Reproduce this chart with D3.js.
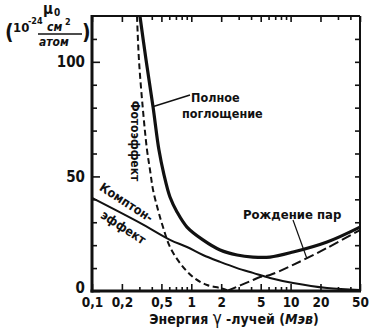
<!DOCTYPE html>
<html>
<head>
<meta charset="utf-8">
<script src="https://cdn.jsdelivr.net/npm/d3@7"></script>
<style>
  html, body { margin: 0; padding: 0; background: #fff; }
  svg { display: block; }
  text { font-family: "Liberation Sans Narrow", "DejaVu Sans Condensed", "Liberation Sans", sans-serif; font-weight: bold; fill: #111; }
</style>
</head>
<body>
<svg id="chart" width="377" height="333"></svg>
<script>
// Energy axis ticks (MeV) and their printed labels
const energyTicks = [0.1, 0.2, 0.5, 1, 2, 5, 10, 20, 50];
const energyTickLabels = ["0,1", "0,2", "0,5", "1", "2", "5", "10", "20", "50"];
const energyMinorTicks = [0.3, 0.4, 0.6, 0.7, 0.8, 0.9, 3, 4, 6, 7, 8, 9, 30, 40];
const muTicks = [0, 50, 100];
const muMinorTicks = [10, 20, 30, 40, 60, 70, 80, 90, 110];
const muRightTicks = [10, 20, 30, 40, 50, 60, 70, 80, 90, 100, 110];

// Total absorption coefficient (10^-24 cm^2 / atom) vs energy (MeV)
const totalE  = [0.304, 0.350, 0.412, 0.472, 0.531, 0.610, 0.718, 0.905, 1.31, 1.95, 2.89, 4.18, 6.20, 10.6, 23.3, 50];
const totalMu = [120, 100.9, 80.3, 61.6, 50.7, 41.0, 34.5, 27.9, 22.3, 17.9, 15.7, 14.8, 14.8, 17.0, 21.4, 27.9];

// Photoelectric effect
const photoE  = [0.284, 0.297, 0.326, 0.358, 0.384, 0.412, 0.462, 0.519, 0.610, 0.769, 1.04, 1.44, 1.95, 2.29];
const photoMu = [120, 100.9, 79, 61.6, 52.8, 44.1, 35.4, 27.9, 19.2, 12.2, 6.1, 2.6, 1.3, 0.3];

// Compton effect
const comptonE  = [0.1, 0.304, 0.610, 0.905, 1.31, 1.95, 2.89, 4.18, 6.20, 10.6, 23.3, 50];
const comptonMu = [40.6, 29.7, 22.3, 19.2, 15.7, 12.7, 10.0, 7.9, 5.7, 3.5, 1.3, 0.4];

// Pair production
const pairE  = [2.29, 4.18, 4.92, 6.2, 10.6, 23.3, 50];
const pairMu = [0, 4.8, 6.1, 7.0, 11.4, 18.8, 26.6];

const svg = d3.select("#chart");
const plotL = 92, plotR = 360, plotT = 16, plotB = 291;

const x = d3.scaleLog().domain([0.1, 50]).range([plotL, plotR]);
const y = d3.scaleLinear().domain([0, 120]).range([plotB, plotT]);

// Axes: ticks point into the plot
function styleAxis(g) {
  g.select(".domain").remove();
  g.selectAll(".tick line").attr("stroke", "#111").attr("stroke-width", 1.6);
}

svg.append("g").attr("transform", `translate(0,${plotB})`)
  .call(d3.axisBottom(x).tickValues(energyTicks)
    .tickFormat((d, i) => energyTickLabels[i]).tickSizeInner(-7).tickSizeOuter(0).tickPadding(6))
  .call(styleAxis)
  .call(g => g.selectAll("text").attr("font-size", 13.5).attr("fill", "#111"));

svg.append("g").attr("transform", `translate(0,${plotB})`)
  .call(d3.axisBottom(x).tickValues(energyMinorTicks).tickFormat("").tickSizeInner(-4).tickSizeOuter(0))
  .call(styleAxis);

svg.append("g").attr("transform", `translate(0,${plotT})`)
  .call(d3.axisTop(x).tickValues(energyTicks).tickFormat("").tickSizeInner(-6).tickSizeOuter(0))
  .call(styleAxis);

svg.append("g").attr("transform", `translate(0,${plotT})`)
  .call(d3.axisTop(x).tickValues(energyMinorTicks).tickFormat("").tickSizeInner(-4).tickSizeOuter(0))
  .call(styleAxis);

svg.append("g").attr("transform", `translate(${plotL},0)`)
  .call(d3.axisLeft(y).tickValues(muTicks).tickSizeInner(-8).tickSizeOuter(0).tickPadding(7))
  .call(styleAxis)
  .call(g => g.selectAll("text").attr("font-size", 15).attr("fill", "#111")
    .attr("dy", d => d === 0 ? "0.1em" : "0.32em"));

svg.append("g").attr("transform", `translate(${plotL},0)`)
  .call(d3.axisLeft(y).tickValues(muMinorTicks).tickFormat("").tickSizeInner(-5).tickSizeOuter(0))
  .call(styleAxis);

svg.append("g").attr("transform", `translate(${plotR},0)`)
  .call(d3.axisRight(y).tickValues(muRightTicks).tickFormat("").tickSizeInner(-5).tickSizeOuter(0))
  .call(styleAxis);

// Frame
const frame = svg.append("g").attr("stroke", "#111").attr("fill", "none");
frame.append("line").attr("x1", plotL).attr("x2", plotR).attr("y1", plotT).attr("y2", plotT).attr("stroke-width", 2);
frame.append("line").attr("x1", plotR).attr("x2", plotR).attr("y1", plotT).attr("y2", plotB).attr("stroke-width", 2);
frame.append("line").attr("x1", plotL).attr("x2", plotL).attr("y1", plotT - 1).attr("y2", plotB + 1.5).attr("stroke-width", 3);
frame.append("line").attr("x1", plotL - 1.5).attr("x2", plotR + 1).attr("y1", plotB).attr("y2", plotB).attr("stroke-width", 3);

// Curves
const line = d3.line().x(d => x(d[0])).y(d => y(d[1])).curve(d3.curveCatmullRom.alpha(0.5));
const zip = (a, b) => a.map((v, i) => [v, b[i]]);

const plot = svg.append("g").attr("fill", "none").attr("stroke", "#111");
plot.append("path").datum(zip(comptonE, comptonMu)).attr("d", line).attr("stroke-width", 2);
plot.append("path").datum(zip(photoE, photoMu)).attr("d", line).attr("stroke-width", 2).attr("stroke-dasharray", "6,3.5");
plot.append("path").datum(zip(pairE, pairMu)).attr("d", line).attr("stroke-width", 2).attr("stroke-dasharray", "10,4");
plot.append("path").datum(zip(totalE, totalMu)).attr("d", line).attr("stroke-width", 3.2);

// Leader lines
plot.append("line").attr("x1", x(0.415)).attr("y1", y(80.5)).attr("x2", 190).attr("y2", 95).attr("stroke-width", 1.4);
plot.append("line").attr("x1", 293).attr("y1", 220).attr("x2", x(14.5)).attr("y2", y(14.5)).attr("stroke-width", 1.2);

// Curve labels
svg.append("text").attr("x", 191).attr("y", 102).attr("font-size", 12.5).text("Полное");
svg.append("text").attr("x", 182).attr("y", 118).attr("font-size", 12.5).text("поглощение");
svg.append("text").attr("x", 243).attr("y", 219).attr("font-size", 13).text("Рождение пар");
svg.append("text").attr("transform", "translate(131,141) rotate(90)")
  .attr("text-anchor", "middle").attr("font-size", 12).text("Фотоэффект");
svg.append("text").attr("transform", "translate(124,206) rotate(33)")
  .attr("text-anchor", "middle").attr("font-size", 12.5).text("Комптон-");
svg.append("text").attr("transform", "translate(121,231) rotate(33)")
  .attr("text-anchor", "middle").attr("font-size", 12.5).text("эффект");

// Axis titles
const yt = svg.append("g");
yt.append("text").attr("x", 43).attr("y", 14).attr("font-size", 15).attr("font-weight", "normal").text("μ");
yt.append("text").attr("x", 54).attr("y", 16).attr("font-size", 10).text("0");
yt.append("text").attr("x", 5).attr("y", 39).attr("font-size", 21).attr("font-weight", "normal").text("(");
yt.append("text").attr("x", 13).attr("y", 32).attr("font-size", 13).attr("font-weight", "normal").text("10");
yt.append("text").attr("x", 28).attr("y", 24).attr("font-size", 9).text("-24");
yt.append("text").attr("x", 47).attr("y", 31).attr("font-size", 12).attr("font-style", "italic").text("см");
yt.append("text").attr("x", 65).attr("y", 25).attr("font-size", 9).text("2");
yt.append("line").attr("x1", 38).attr("x2", 82).attr("y1", 34).attr("y2", 34).attr("stroke", "#111").attr("stroke-width", 1.5);
yt.append("text").attr("x", 39).attr("y", 46).attr("font-size", 12).attr("font-style", "italic").text("атом");
yt.append("text").attr("x", 82).attr("y", 39).attr("font-size", 21).attr("font-weight", "normal").text(")");

const xt = svg.append("text").attr("x", 234).attr("y", 324).attr("text-anchor", "middle").attr("font-size", 14);
xt.append("tspan").text("Энергия ");
xt.append("tspan").attr("font-size", 17).attr("font-weight", "normal").text("γ");
xt.append("tspan").text(" -лучей (");
xt.append("tspan").attr("font-style", "italic").text("Мэв");
xt.append("tspan").text(")");
</script>
</body>
</html>
